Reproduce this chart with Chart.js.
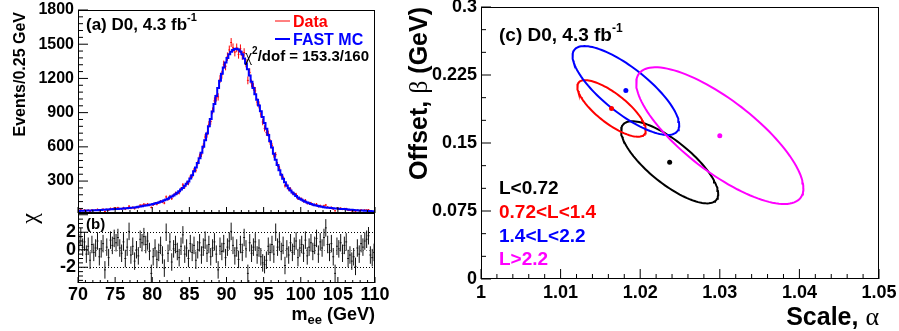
<!DOCTYPE html>
<html lang="en">
<head>
<meta charset="UTF-8">
<title>D0 electron energy scale</title>
<script src="https://cdn.jsdelivr.net/npm/chart.js"></script>
<style>
  body { margin: 0; background: #fff; }
  #wrap { position: relative; width: 899px; height: 331px; overflow: hidden; }
  canvas { position: absolute; }
</style>
</head>
<body>
<div id="wrap">
  <canvas id="chartA" width="390" height="214" style="left:0;top:0"></canvas>
  <canvas id="chartB" width="390" height="119" style="left:0;top:212px"></canvas>
  <canvas id="chartC" width="509" height="331" style="left:390px;top:0"></canvas>
</div>

<script>
// ---------- panel (a)/(b): m_ee histogram, 0.25 GeV bins from 70 to 110 GeV ----------
const massMin = 70;
const massMax = 110;
const binWidth = 0.25;

// FAST MC prediction (events per bin)
const mcEvents = [
  38, 39, 39, 40, 41, 42, 42, 43, 44, 45, 45, 46, 47, 48, 49, 50, 51, 52, 53, 54,
  55, 56, 57, 58, 59, 61, 62, 63, 65, 67, 69, 71, 74, 77, 80, 83, 86, 89, 92, 95,
  99, 103, 108, 113, 118, 124, 131, 138, 146, 155, 164, 174, 185, 197, 210, 225, 240, 258, 277, 297,
  322, 352, 385, 420, 458, 500, 548, 600, 658, 718, 780, 845, 910, 975, 1045, 1115, 1180, 1240, 1295, 1340,
  1380, 1412, 1435, 1450, 1458, 1460, 1453, 1437, 1412, 1375, 1330, 1280, 1225, 1170, 1115, 1062, 1012, 962, 912, 862,
  810, 758, 705, 650, 595, 540, 488, 440, 395, 355, 320, 290, 262, 238, 218, 200, 184, 170, 157, 146,
  136, 127, 119, 112, 105, 99, 94, 89, 85, 81, 77, 74, 71, 69, 67, 65, 63, 61, 60, 59,
  57, 56, 55, 54, 52, 51, 49, 48, 46, 45, 44, 43, 42, 41, 40, 39, 38, 37, 36, 35
];

// Data (events per bin)
const dataEvents = [
  43, 48, 41, 46, 38, 45, 34, 47, 42, 46, 52, 41, 48, 53, 33, 52, 45, 60, 57, 63,
  61, 66, 59, 55, 66, 53, 64, 80, 60, 70, 58, 71, 68, 88, 87, 97, 92, 98, 90, 69,
  91, 105, 97, 110, 123, 117, 107, 161, 141, 166, 146, 175, 193, 194, 197, 231, 266, 250, 280, 280,
  335, 346, 395, 395, 458, 518, 534, 607, 686, 707, 797, 822, 916, 1003, 1029, 1038, 1194, 1233, 1320, 1307,
  1391, 1450, 1515, 1469, 1431, 1468, 1411, 1460, 1401, 1427, 1334, 1183, 1253, 1156, 1125, 1091, 993, 968, 888, 818,
  762, 725, 716, 642, 610, 528, 532, 446, 413, 351, 329, 259, 264, 229, 230, 196, 189, 183, 146, 148,
  143, 122, 131, 105, 108, 107, 92, 94, 97, 77, 85, 76, 83, 90, 72, 63, 69, 55, 39, 62,
  58, 62, 52, 58, 58, 44, 45, 39, 41, 32, 45, 40, 47, 43, 46, 46, 48, 33, 31, 33
];

// chi = (data - MC) / sigma, per bin
const chiValues = [
  0.8, 1.5, 0.3, 0.9, -0.5, 0.4, -1.2, 0.6, -0.3, 0.2, 1.0, -0.8, 0.1, 0.7, -2.3, 0.3, -0.9, 1.1, 0.5, 1.3,
  0.8, 1.4, 0.2, -0.4, 0.9, -1.0, 0.3, 2.1, -0.6, 0.4, -1.3, 0.0, -0.7, 1.2, 0.8, 1.5, 0.6, 1.0, -0.2, -2.7,
  -0.8, 0.2, -1.1, -0.3, 0.5, -0.6, -2.1, 2.0, -0.4, 0.9, -1.4, 0.1, 0.6, -0.2, -0.9, 0.4, 1.7, -0.5, 0.2, -1.0,
  0.7, -0.3, 0.5, -1.2, 0.0, 0.8, -0.6, 0.3, 1.1, -0.4, 0.6, -0.8, 0.2, 0.9, -0.5, -2.3, 0.4, -0.2, 0.7, -0.9,
  0.3, 1.0, 2.1, 0.5, -0.7, 0.2, -1.1, 0.6, -0.3, 1.4, 0.1, -2.7, 0.8, -0.4, 0.3, 0.9, -0.6, 0.2, -0.8, -1.5,
  -1.7, -1.2, 0.4, -0.3, 0.6, -0.5, 2.0, 0.3, 0.9, -0.2, 0.5, -1.8, 0.1, -0.6, 0.8, -0.3, 0.4, 1.0, -0.9, 0.2,
  0.6, -0.4, 1.1, -0.7, 0.3, 0.8, -0.2, 0.5, 1.3, -0.5, 0.9, 0.2, 1.4, 2.5, 0.6, -0.3, 0.7, -0.8, -2.7, 0.4,
  0.1, 0.8, -0.4, 0.5, 0.9, -1.0, -0.6, -1.3, -0.8, -1.9, 0.2, -0.5, 0.7, 0.3, 1.0, 1.2, 1.6, -0.6, -0.9, -0.3
];

const eventTicks = [300, 600, 900, 1200, 1500, 1800];
const massTicks = [70, 75, 80, 85, 90, 95, 100, 105, 110];
const chiTicks = [-2, 0, 2];
const chiRefLines = [-2, 0, 2];

// ---------- panel (c): fitted scale / offset per luminosity bin ----------
const lumiBins = ['L<0.72', '0.72<L<1.4', '1.4<L<2.2', 'L>2.2'];
const lumiColors = ['#000000', '#ff0000', '#0000ff', '#ff00ff'];
const scaleAlpha = [1.0237, 1.0164, 1.0182, 1.0300];
const offsetBeta = [0.1287, 0.1881, 0.2079, 0.1581];
const sigmaAlpha = [0.0061, 0.0043, 0.0067, 0.0105];
const sigmaBeta = [0.0453, 0.0312, 0.0490, 0.0754];
const corrAlphaBeta = [-0.77, -0.77, -0.78, -0.77];
const alphaTicks = [1, 1.01, 1.02, 1.03, 1.04, 1.05];
const betaTicks = [0, 0.075, 0.15, 0.225, 0.3];

const FONT = "'Liberation Sans', Arial, Helvetica, sans-serif";
const SERIF = "'Liberation Serif', 'Times New Roman', serif";

const massCenters = mcEvents.map((_, i) => massMin + (i + 0.5) * binWidth);

// ---------- helpers ----------
function tickMarks(scale, s, draw) {
  const k0 = Math.ceil(scale.min / s.minor - 1e-6);
  const k1 = Math.floor(scale.max / s.minor + 1e-6);
  for (let k = k0; k <= k1; k++) {
    const v = k * s.minor;
    const r = v / s.major;
    const major = Math.abs(r - Math.round(r)) < 1e-6;
    draw(scale.getPixelForValue(v), major ? s.majorLen : s.minorLen);
  }
}

// ROOT style frame with ticks pointing inwards
function rootAxes(spec) {
  return {
    id: 'rootAxes',
    afterDatasetsDraw(chart) {
      const { ctx, chartArea: a, scales } = chart;
      ctx.save();
      ctx.strokeStyle = '#000';
      ctx.lineWidth = 1;
      ctx.beginPath();
      tickMarks(scales.x, spec.x, (p, len) => { ctx.moveTo(p, a.bottom); ctx.lineTo(p, a.bottom - len); });
      tickMarks(scales.y, spec.y, (p, len) => { ctx.moveTo(a.left, p); ctx.lineTo(a.left + len, p); });
      ctx.stroke();
      ctx.strokeRect(a.left + 0.5, a.top + 0.5, a.right - a.left - 1, a.bottom - a.top - 1);
      ctx.restore();
    }
  };
}

function drawRich(ctx, x, y, parts, align) {
  let w = 0;
  parts.forEach(p => { ctx.font = p.font; p.w = ctx.measureText(p.text).width; w += p.w; });
  let cx = align === 'right' ? x - w : x;
  ctx.textAlign = 'left';
  ctx.textBaseline = 'alphabetic';
  parts.forEach(p => {
    ctx.font = p.font;
    ctx.fillStyle = p.color || '#000';
    ctx.fillText(p.text, cx, y + (p.dy || 0));
    cx += p.w;
  });
}

function textLayer(fn) {
  return { id: 'textLayer', afterDraw(chart) { chart.ctx.save(); fn(chart.ctx, chart); chart.ctx.restore(); } };
}

function fixedAxis(size, dim) {
  return s => {
    s[dim] = size;
    s.paddingLeft = 0; s.paddingRight = 0; s.paddingTop = 0; s.paddingBottom = 0;
  };
}

const bold = sz => 'bold ' + sz + 'px ' + FONT;
const plainNumber = v => String(+Number(v).toFixed(3));

// ---------- panel (a) ----------
const dataErrorBars = {
  id: 'dataErrorBars',
  beforeDatasetsDraw(chart) {
    const { ctx, chartArea: a, scales: { x, y } } = chart;
    ctx.save();
    ctx.beginPath();
    ctx.rect(a.left, a.top, a.right - a.left, a.bottom - a.top);
    ctx.clip();
    ctx.strokeStyle = '#ff0000';
    ctx.lineWidth = 1;
    ctx.beginPath();
    dataEvents.forEach((n, i) => {
      const m = massCenters[i];
      const err = Math.sqrt(n);
      const px = x.getPixelForValue(m);
      const py = y.getPixelForValue(n);
      ctx.moveTo(x.getPixelForValue(m - binWidth / 2), py);
      ctx.lineTo(x.getPixelForValue(m + binWidth / 2), py);
      ctx.moveTo(px, y.getPixelForValue(n - err));
      ctx.lineTo(px, y.getPixelForValue(n + err));
    });
    ctx.stroke();
    ctx.restore();
  }
};

new Chart(document.getElementById('chartA'), {
  type: 'line',
  data: {
    datasets: [{
      label: 'FAST MC',
      data: massCenters.map((m, i) => ({ x: m, y: mcEvents[i] })),
      borderColor: '#0000ff',
      borderWidth: 2,
      pointRadius: 0,
      stepped: 'middle',
      fill: false
    }]
  },
  options: {
    responsive: false,
    animation: false,
    devicePixelRatio: 1,
    layout: { padding: { left: 0, right: 15, top: 10, bottom: 1 } },
    plugins: { legend: { display: false }, tooltip: { enabled: false } },
    scales: {
      x: { type: 'linear', min: massMin, max: massMax, display: false },
      y: {
        min: 20, max: 1800,
        grid: { display: false, drawTicks: false },
        border: { display: false },
        ticks: { font: { family: FONT, size: 16, weight: 'bold' }, color: '#000', padding: 4, callback: plainNumber },
        afterBuildTicks: s => { s.ticks = eventTicks.map(v => ({ value: v })); },
        afterFit: fixedAxis(78, 'width')
      }
    }
  },
  plugins: [
    dataErrorBars,
    rootAxes({
      x: { minor: 1, major: 5, majorLen: 6, minorLen: 3 },
      y: { minor: 60, major: 300, majorLen: 10, minorLen: 5 }
    }),
    textLayer(ctx => {
      drawRich(ctx, 86, 30, [
        { text: '(a) D0, 4.3 fb', font: bold(17) },
        { text: '-1', font: bold(11), dy: -9 }
      ]);
      // legend
      ctx.lineWidth = 1;
      ctx.strokeStyle = '#ff0000';
      ctx.beginPath(); ctx.moveTo(275, 21); ctx.lineTo(290, 21); ctx.stroke();
      ctx.lineWidth = 2;
      ctx.strokeStyle = '#0000ff';
      ctx.beginPath(); ctx.moveTo(275, 39); ctx.lineTo(290, 39); ctx.stroke();
      drawRich(ctx, 293, 27, [{ text: 'Data', font: bold(16), color: '#ff0000' }]);
      drawRich(ctx, 293, 45, [{ text: 'FAST MC', font: bold(16), color: '#0000ff' }]);
      drawRich(ctx, 245, 61, [
        { text: '\u03c7', font: '16px ' + SERIF },
        { text: '2', font: bold(10), dy: -7 },
        { text: '/dof = 153.3/160', font: bold(15) }
      ]);
      // y title
      ctx.translate(25, 12);
      ctx.rotate(-Math.PI / 2);
      drawRich(ctx, 0, 0, [{ text: 'Events/0.25 GeV', font: bold(16) }], 'right');
    })
  ]
});

// ---------- panel (b) ----------
const chiErrorBars = {
  id: 'chiErrorBars',
  beforeDatasetsDraw(chart) {
    const { ctx, chartArea: a, scales: { x, y } } = chart;
    ctx.save();
    ctx.beginPath();
    ctx.rect(a.left, a.top, a.right - a.left, a.bottom - a.top);
    ctx.clip();
    // reference lines
    chiRefLines.forEach(v => {
      ctx.strokeStyle = v === 0 ? '#888' : '#000';
      ctx.lineWidth = 1;
      ctx.setLineDash([1, 2]);
      const py = Math.round(y.getPixelForValue(v)) + 0.5;
      ctx.beginPath(); ctx.moveTo(a.left, py); ctx.lineTo(a.right, py); ctx.stroke();
    });
    ctx.setLineDash([]);
    ctx.strokeStyle = '#111';
    ctx.lineWidth = 1;
    ctx.beginPath();
    chiValues.forEach((c, i) => {
      const m = massCenters[i];
      const px = x.getPixelForValue(m);
      const py = y.getPixelForValue(c);
      ctx.moveTo(x.getPixelForValue(m - binWidth / 2), py);
      ctx.lineTo(x.getPixelForValue(m + binWidth / 2), py);
      ctx.moveTo(px, y.getPixelForValue(c - 1));
      ctx.lineTo(px, y.getPixelForValue(c + 1));
    });
    ctx.stroke();
    ctx.restore();
  }
};

new Chart(document.getElementById('chartB'), {
  type: 'scatter',
  data: {
    datasets: [{
      label: 'chi',
      data: massCenters.map((m, i) => ({ x: m, y: chiValues[i] })),
      pointRadius: 0
    }]
  },
  options: {
    responsive: false,
    animation: false,
    devicePixelRatio: 1,
    layout: { padding: { left: 0, right: 15, top: 1, bottom: 0 } },
    plugins: { legend: { display: false }, tooltip: { enabled: false } },
    scales: {
      x: {
        type: 'linear', min: massMin, max: massMax,
        grid: { display: false, drawTicks: false },
        border: { display: false },
        ticks: { font: { family: FONT, size: 18, weight: 'bold' }, color: '#000', padding: 1, autoSkip: false, maxRotation: 0, callback: plainNumber },
        afterBuildTicks: s => { s.ticks = massTicks.map(v => ({ value: v })); },
        afterFit: fixedAxis(48, 'height')
      },
      y: {
        min: -3.8, max: 4.2,
        grid: { display: false, drawTicks: false },
        border: { display: false },
        ticks: { font: { family: FONT, size: 18, weight: 'bold' }, color: '#000', padding: 2, callback: plainNumber },
        afterBuildTicks: s => { s.ticks = chiTicks.map(v => ({ value: v })); },
        afterFit: fixedAxis(78, 'width')
      }
    }
  },
  plugins: [
    chiErrorBars,
    rootAxes({
      x: { minor: 1, major: 5, majorLen: 6, minorLen: 3 },
      y: { minor: 0.5, major: 2, majorLen: 10, minorLen: 5 }
    }),
    textLayer(ctx => {
      drawRich(ctx, 86, 17, [{ text: '(b)', font: bold(15) }]);
      drawRich(ctx, 375, 108, [
        { text: 'm', font: bold(18) },
        { text: 'ee', font: bold(13), dy: 4 },
        { text: ' (GeV)', font: bold(18) }
      ], 'right');
      ctx.translate(37, 1);
      ctx.rotate(-Math.PI / 2);
      drawRich(ctx, 0, 0, [{ text: '\u03c7', font: '24px ' + SERIF }], 'right');
    })
  ]
});

// ---------- panel (c) ----------
function ellipsePoints(k) {
  const pts = [];
  const r = corrAlphaBeta[k];
  for (let j = 0; j <= 120; j++) {
    const t = 2 * Math.PI * j / 120;
    pts.push({
      x: scaleAlpha[k] + sigmaAlpha[k] * Math.cos(t),
      y: offsetBeta[k] + sigmaBeta[k] * (r * Math.cos(t) + Math.sqrt(1 - r * r) * Math.sin(t))
    });
  }
  return pts;
}

const ellipseSets = lumiBins.map((name, k) => ({
  label: name,
  data: ellipsePoints(k),
  showLine: true,
  borderColor: lumiColors[k],
  borderWidth: 2,
  pointRadius: 0,
  tension: 0,
  order: lumiBins.length - k
}));

new Chart(document.getElementById('chartC'), {
  type: 'scatter',
  data: {
    datasets: ellipseSets.concat([{
      label: 'best fit',
      data: lumiBins.map((_, k) => ({ x: scaleAlpha[k], y: offsetBeta[k] })),
      backgroundColor: lumiColors,
      borderWidth: 0,
      pointRadius: 2.5,
      order: 0
    }])
  },
  options: {
    responsive: false,
    animation: false,
    devicePixelRatio: 1,
    layout: { padding: { left: 0, right: 20, top: 7, bottom: 0 } },
    plugins: { legend: { display: false }, tooltip: { enabled: false } },
    scales: {
      x: {
        type: 'linear', min: 1, max: 1.05,
        grid: { display: false, drawTicks: false },
        border: { display: false },
        ticks: {
          font: { family: FONT, size: 18, weight: 'bold' }, color: '#000', padding: 3,
          autoSkip: false, maxRotation: 0,
          callback: plainNumber
        },
        afterBuildTicks: s => { s.ticks = alphaTicks.map(v => ({ value: v })); },
        afterFit: fixedAxis(52, 'height')
      },
      y: {
        min: 0, max: 0.3,
        grid: { display: false, drawTicks: false },
        border: { display: false },
        ticks: {
          font: { family: FONT, size: 18, weight: 'bold' }, color: '#000', padding: 4,
          callback: plainNumber
        },
        afterBuildTicks: s => { s.ticks = betaTicks.map(v => ({ value: v })); },
        afterFit: fixedAxis(91, 'width')
      }
    }
  },
  plugins: [
    rootAxes({
      x: { minor: 0.002, major: 0.01, majorLen: 10, minorLen: 5 },
      y: { minor: 0.025, major: 0.075, majorLen: 10, minorLen: 5 }
    }),
    textLayer(ctx => {
      drawRich(ctx, 109, 41, [
        { text: '(c) D0, 4.3 fb', font: bold(19) },
        { text: '-1', font: bold(12), dy: -9 }
      ]);
      const legendBase = [194, 218, 242, 265];
      lumiBins.forEach((name, k) => {
        drawRich(ctx, 109, legendBase[k], [{ text: name, font: bold(19), color: lumiColors[k] }]);
      });
      drawRich(ctx, 489, 325, [
        { text: 'Scale, ', font: bold(25) },
        { text: '\u03b1', font: '26px ' + SERIF }
      ], 'right');
      ctx.translate(37, 7);
      ctx.rotate(-Math.PI / 2);
      drawRich(ctx, 0, 0, [
        { text: 'Offset, ', font: bold(25) },
        { text: '\u03b2', font: '26px ' + SERIF },
        { text: ' (GeV)', font: bold(25) }
      ], 'right');
    })
  ]
});
</script>
</body>
</html>
